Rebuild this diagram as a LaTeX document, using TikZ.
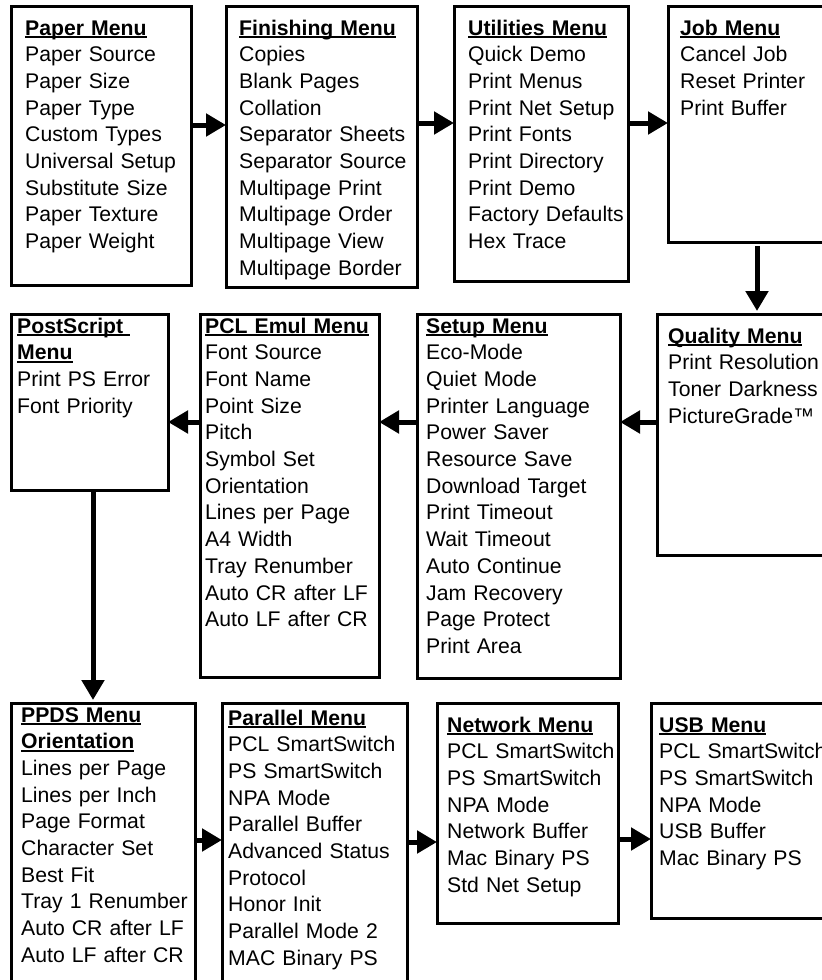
\documentclass[tikz,border=0pt]{standalone}
\usepackage{fontspec}
\setmainfont{Liberation Sans}
\usetikzlibrary{positioning,arrows.meta}

\newsavebox{\titlebox}
\newcommand{\menutitle}[1]{%
  \leavevmode\sbox{\titlebox}{\bfseries #1}%
  \rlap{\rule[-3.4pt]{\wd\titlebox}{2pt}}\usebox{\titlebox}}

\begin{document}
\begin{tikzpicture}[
    x=1pt, y=-1pt,
    menubox/.style={rectangle, draw=black, line width=3pt, inner sep=0pt,
      outer sep=0pt, anchor=north west},
    menulist/.style={anchor=base west, inner sep=0pt, text width=240pt,
      align=left, font=\fontsize{21.2}{26.7}\selectfont},
    menuarrow/.style={line width=5pt, -{Triangle[length=20pt,width=22pt]}}
  ]
  \useasboundingbox (0,0) rectangle (822,980);
  \clip (0,0) rectangle (822,980);

  % top row
  \node[menubox, minimum width=180pt, minimum height=279pt] (paper) at (11,6) {};
  \node[menubox, minimum width=191pt, minimum height=281pt,
    right=35pt of paper.north east, anchor=north west] (finishing) {};
  \node[menubox, minimum width=174pt, minimum height=275pt,
    right=37pt of finishing.north east, anchor=north west] (utilities) {};
  \node[menubox, minimum width=180pt, minimum height=236pt,
    right=40pt of utilities.north east, anchor=north west] (job) {};

  % middle row
  \node[menubox, minimum width=157pt, minimum height=176pt] (postscript) at (11,314) {};
  \node[menubox, minimum width=179pt, minimum height=363pt,
    right=32pt of postscript.north east, anchor=north west] (pcl) {};
  \node[menubox, minimum width=203pt, minimum height=364pt,
    right=38pt of pcl.north east, anchor=north west] (setup) {};
  \node[menubox, minimum width=190pt, minimum height=241pt,
    right=37pt of setup.north east, anchor=north west] (quality) {};

  % bottom row
  \node[menubox, minimum width=184pt, minimum height=300pt] (ppds) at (11,703) {};
  \node[menubox, minimum width=185pt, minimum height=300pt,
    right=27pt of ppds.north east, anchor=north west] (parallel) {};
  \node[menubox, minimum width=181pt, minimum height=220pt,
    right=30pt of parallel.north east, anchor=north west] (network) {};
  \node[menubox, minimum width=190pt, minimum height=215pt,
    right=33pt of network.north east, anchor=north west] (usb) {};

  % menu entries
  \node[menulist] (paper-t) at ([shift={(14pt,-29pt)}]paper.north west)
    {\menutitle{Paper Menu}\\Paper Source\\Paper Size\\Paper Type\\Custom Types\\Universal Setup\\Substitute Size\\Paper Texture\\Paper Weight};
  \node[menulist] (finishing-t) at ([shift={(13pt,-29pt)}]finishing.north west)
    {\menutitle{Finishing Menu}\\Copies\\Blank Pages\\Collation\\Separator Sheets\\Separator Source\\Multipage Print\\Multipage Order\\Multipage View\\Multipage Border};
  \node[menulist] (utilities-t) at ([shift={(14pt,-29pt)}]utilities.north west)
    {\menutitle{Utilities Menu}\\Quick Demo\\Print Menus\\Print Net Setup\\Print Fonts\\Print Directory\\Print Demo\\Factory Defaults\\Hex Trace};
  \node[menulist] (job-t) at ([shift={(12pt,-29pt)}]job.north west)
    {\menutitle{Job Menu}\\Cancel Job\\Reset Printer\\Print Buffer};
  \node[menulist] (postscript-t) at ([shift={(6pt,-19pt)}]postscript.north west)
    {\menutitle{PostScript\ }\\\menutitle{Menu}\\Print PS Error\\Font Priority};
  \node[menulist] (pcl-t) at ([shift={(5pt,-19pt)}]pcl.north west)
    {\menutitle{PCL Emul Menu}\\Font Source\\Font Name\\Point Size\\Pitch\\Symbol Set\\Orientation\\Lines per Page\\A4 Width\\Tray Renumber\\Auto CR after LF\\Auto LF after CR};
  \node[menulist] (setup-t) at ([shift={(9pt,-19pt)}]setup.north west)
    {\menutitle{Setup Menu}\\Eco-Mode\\Quiet Mode\\Printer Language\\Power Saver\\Resource Save\\Download Target\\Print Timeout\\Wait Timeout\\Auto Continue\\Jam Recovery\\Page Protect\\Print Area};
  \node[menulist] (quality-t) at ([shift={(11pt,-29pt)}]quality.north west)
    {\menutitle{Quality Menu}\\Print Resolution\\Toner Darkness\\PictureGrade™};
  \node[menulist] (ppds-t) at ([shift={(10pt,-19pt)}]ppds.north west)
    {\menutitle{PPDS Menu}\\\menutitle{Orientation}\\Lines per Page\\Lines per Inch\\Page Format\\Character Set\\Best Fit\\Tray 1 Renumber\\Auto CR after LF\\Auto LF after CR};
  \node[menulist] (parallel-t) at ([shift={(6pt,-22pt)}]parallel.north west)
    {\menutitle{Parallel Menu}\\PCL SmartSwitch\\PS SmartSwitch\\NPA Mode\\Parallel Buffer\\Advanced Status\\Protocol\\Honor Init\\Parallel Mode 2\\MAC Binary PS};
  \node[menulist] (network-t) at ([shift={(10pt,-29pt)}]network.north west)
    {\menutitle{Network Menu}\\PCL SmartSwitch\\PS SmartSwitch\\NPA Mode\\Network Buffer\\Mac Binary PS\\Std Net Setup};
  \node[menulist] (usb-t) at ([shift={(8pt,-29pt)}]usb.north west)
    {\menutitle{USB Menu}\\PCL SmartSwitch\\PS SmartSwitch\\NPA Mode\\USB Buffer\\Mac Binary PS};

  % arrows
  \draw[menuarrow] ([yshift=-119pt]paper.north east) -- ([yshift=-119pt]finishing.north west);
  \draw[menuarrow] ([yshift=-117pt]finishing.north east) -- ([yshift=-117pt]utilities.north west);
  \draw[menuarrow] ([yshift=-117pt]utilities.north east) -- ([yshift=-117pt]job.north west);
  \draw[menuarrow, shorten <=4pt, shorten >=3pt] ([xshift=89pt]job.south west) -- ([xshift=100pt]quality.north west);
  \draw[menuarrow] ([yshift=-108pt]quality.north west) -- ([yshift=-108pt]setup.north east);
  \draw[menuarrow] ([yshift=-108pt]setup.north west) -- ([yshift=-108pt]pcl.north east);
  \draw[menuarrow] ([yshift=-108pt]pcl.north west) -- ([yshift=-108pt]postscript.north east);
  \draw[menuarrow, shorten >=3pt] ([xshift=82pt]postscript.south west) -- ([xshift=82pt]ppds.north west);
  \draw[menuarrow] ([yshift=-137pt]ppds.north east) -- ([yshift=-137pt]parallel.north west);
  \draw[menuarrow] ([yshift=-139pt]parallel.north east) -- ([yshift=-139pt]network.north west);
  \draw[menuarrow] ([yshift=-136pt]network.north east) -- ([yshift=-136pt]usb.north west);
\end{tikzpicture}
\end{document}
